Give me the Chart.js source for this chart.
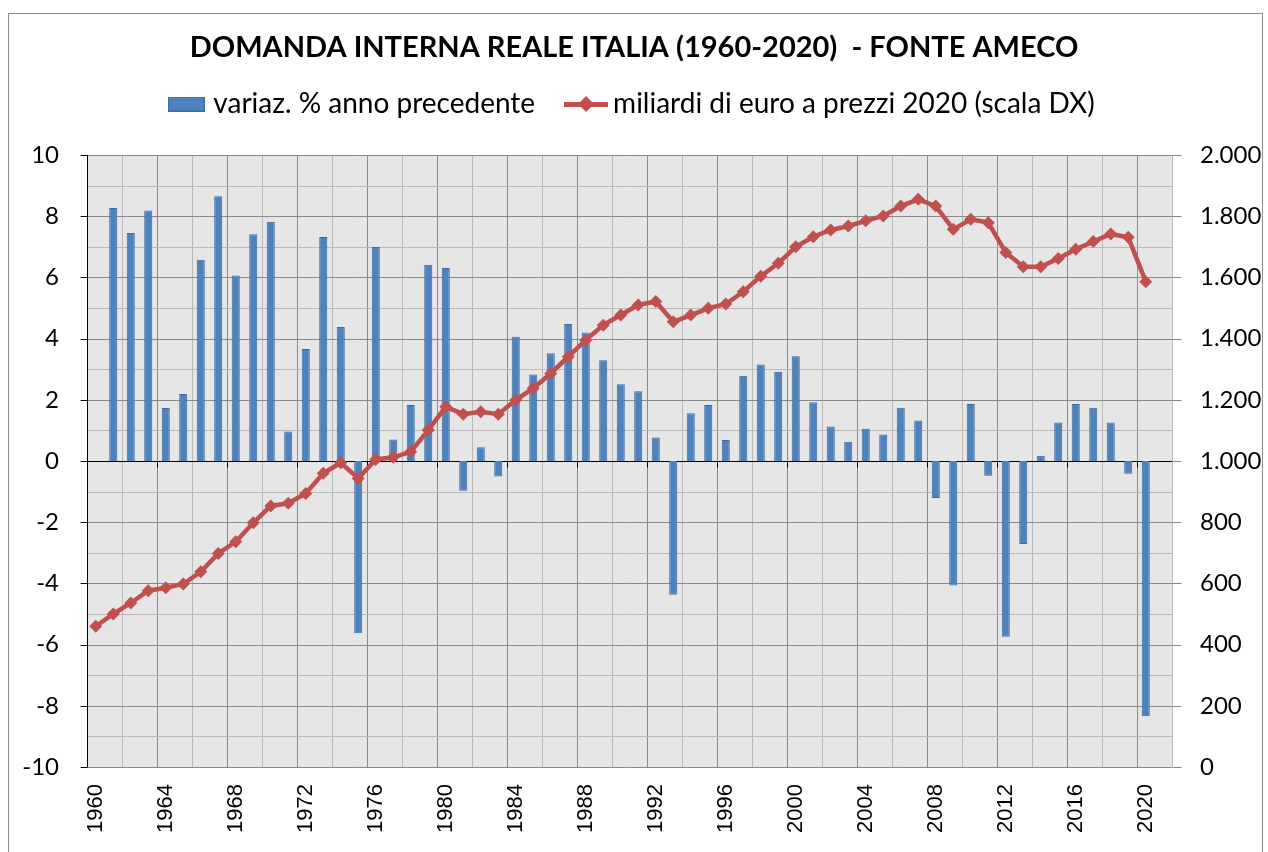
<!DOCTYPE html>
<html>
<head>
<meta charset="utf-8">
<script src="https://cdn.jsdelivr.net/npm/chart.js@4.4.1/dist/chart.umd.min.js"></script>
<style>
    body {
        margin: 0;
        background: #ffffff;
    }
    canvas {
        position: absolute;
        left: 0;
        top: 0;
    }
</style>
</head>
<body>
<canvas id="plot" width="1268" height="852"></canvas>
<script>
// years on the category axis (2021 is an empty slot, as in the original sheet)
const years = [];
for (let y = 1960; y <= 2021; y++) years.push(String(y));

// variaz. % anno precedente
const pctChange = [
    null, 8.27, 7.45, 8.19, 1.73, 2.19, 6.58, 8.65, 6.06, 7.41,
    7.82, 0.96, 3.66, 7.32, 4.38, -5.63, 6.99, 0.70, 1.83, 6.41,
    6.31, -0.97, 0.45, -0.51, 4.06, 2.83, 3.52, 4.48, 4.20, 3.29,
    2.51, 2.28, 0.77, -4.37, 1.56, 1.83, 0.69, 2.79, 3.15, 2.92,
    3.42, 1.92, 1.13, 0.63, 1.05, 0.87, 1.74, 1.32, -1.21, -4.07,
    1.86, -0.48, -5.74, -2.71, 0.17, 1.26, 1.86, 1.74, 1.26, -0.42,
    -8.34, null
];

// miliardi di euro a prezzi 2020
const billionsEur = [
    460, 500, 536, 576, 586, 598, 638, 698, 736, 798,
    853, 862, 894, 960, 994, 943, 1005, 1012, 1030, 1101,
    1177, 1153, 1161, 1153, 1199, 1238, 1286, 1341, 1395, 1444,
    1477, 1510, 1521, 1455, 1477, 1499, 1513, 1553, 1604, 1646,
    1700, 1733, 1755, 1768, 1785, 1801, 1833, 1855, 1833, 1757,
    1790, 1779, 1681, 1635, 1635, 1662, 1692, 1717, 1742, 1731,
    1586, null
];

const titleText = "DOMANDA INTERNA REALE ITALIA (1960-2020)  - FONTE AMECO";
const barLabel = "variaz. % anno precedente";
const lineLabel = "miliardi di euro a prezzi 2020 (scala DX)";

const BLUE = "#4F81BD";
const BLUE_EDGE = "#3B6A9F";
const RED = "#C0504D";
const MAJOR_GRID = "#8a8a8a";
const MINOR_GRID = "#b9b9b9";

// legend glyphs drawn into small canvases
function makeBoxGlyph() {
    const c = document.createElement("canvas");
    c.width = 37; c.height = 15;
    const g = c.getContext("2d");
    g.fillStyle = BLUE;
    g.fillRect(0, 0, 37, 15);
    g.strokeStyle = BLUE_EDGE;
    g.lineWidth = 1;
    g.strokeRect(0.5, 0.5, 36, 14);
    return c;
}
function makeLineGlyph() {
    const c = document.createElement("canvas");
    c.width = 44; c.height = 16;
    const g = c.getContext("2d");
    g.fillStyle = RED;
    g.fillRect(0, 6, 44, 5);
    g.beginPath();
    g.moveTo(22, 0); g.lineTo(30, 8); g.lineTo(22, 16); g.lineTo(14, 8);
    g.closePath();
    g.fill();
    return c;
}

// Italian thousands separator: 2000 -> "2.000"
function fmtThousands(v) {
    if (v >= 1000) {
        const rest = String(v % 1000).padStart(3, "0");
        return Math.floor(v / 1000) + "." + rest;
    }
    return String(v);
}

function strokeLine(ctx, x1, y1, x2, y2, color) {
    ctx.strokeStyle = color;
    ctx.beginPath();
    ctx.moveTo(x1, y1);
    ctx.lineTo(x2, y2);
    ctx.stroke();
}

// plot background, frame and the Excel-like grid, all placed from the scales
const plotGrid = {
    id: "plotGrid",
    beforeDraw: (chart) => {
        const {ctx, chartArea: a, scales} = chart;
        const x = scales.x, y = scales.y, y1 = scales.y1;
        ctx.save();
        ctx.lineWidth = 1;
        // outer frame of the picture
        ctx.strokeStyle = "#8c8c8c";
        ctx.strokeRect(8.5, 13.5, 1254, 900);

        ctx.fillStyle = "#e6e6e6";
        ctx.fillRect(a.left, a.top, a.right - a.left, a.bottom - a.top);

        // vertical lines on category boundaries, every 2 years (darker every 4)
        const step = x.getPixelForValue(1) - x.getPixelForValue(0);
        const first = x.getPixelForValue(0) - step / 2;
        for (let i = 2; i <= years.length; i += 2) {
            const px = Math.round(first + i * step) + 0.5;
            strokeLine(ctx, px, a.top, px, a.bottom, i % 4 === 0 ? MAJOR_GRID : MINOR_GRID);
        }
        // horizontal lines, minor first then major
        for (let v = -9; v <= 9; v += 2) {
            const py = Math.round(y.getPixelForValue(v)) + 0.5;
            strokeLine(ctx, a.left, py, a.right, py, MINOR_GRID);
        }
        for (let v = -10; v <= 10; v += 2) {
            if (v === 0) continue;
            const py = Math.round(y.getPixelForValue(v)) + 0.5;
            strokeLine(ctx, a.left, py, a.right, py, MAJOR_GRID);
        }
        // left axis with outward tick marks
        const lx = Math.round(a.left) + 0.5;
        strokeLine(ctx, lx, a.top, lx, a.bottom, "#000");
        for (let v = -10; v <= 10; v += 2) {
            const py = Math.round(y.getPixelForValue(v)) + 0.5;
            strokeLine(ctx, lx - 7, py, lx, py, "#000");
        }
        // right axis tick marks
        const rx = Math.round(a.right) + 0.5;
        for (let v = 0; v <= 2000; v += 200) {
            const py = Math.round(y1.getPixelForValue(v)) + 0.5;
            strokeLine(ctx, rx, py, rx + 9, py, MAJOR_GRID);
        }
        // zero line with small ticks every 4 years
        const y0 = Math.round(y.getPixelForValue(0)) + 0.5;
        strokeLine(ctx, a.left, y0, a.right, y0, "#000");
        for (let i = 4; i < years.length; i += 4) {
            const px = Math.round(first + i * step) + 0.5;
            strokeLine(ctx, px, y0, px, y0 + 6, "#000");
        }
        ctx.restore();
    }
};

// extra room between legend and plot area
const legendGap = {
    id: "legendGap",
    beforeInit: (chart) => {
        const fit = chart.legend.fit;
        chart.legend.fit = function () {
            fit.bind(chart.legend)();
            this.height += 27;
        };
    }
};

const boxGlyph = makeBoxGlyph();
const lineGlyph = makeLineGlyph();

const config = {
    type: "bar",
    data: {
        labels: years,
        datasets: [
            {
                type: "bar",
                label: barLabel,
                data: pctChange,
                yAxisID: "y",
                backgroundColor: BLUE,
                borderColor: BLUE_EDGE,
                borderWidth: 1,
                barPercentage: 0.46,
                categoryPercentage: 1.0,
                order: 2,
            },
            {
                type: "line",
                label: lineLabel,
                data: billionsEur,
                yAxisID: "y1",
                borderColor: RED,
                backgroundColor: RED,
                borderWidth: 4.5,
                tension: 0,
                pointStyle: "rectRot",
                pointRadius: 6.5,
                pointBorderWidth: 0,
                pointBackgroundColor: RED,
                order: 1,
            },
        ],
    },
    options: {
        responsive: false,
        animation: false,
        devicePixelRatio: 1,
        plugins: {
            tooltip: {enabled: false},
            title: {
                display: true,
                text: titleText,
                color: "#000",
                font: {family: "Lato", size: 29, weight: "bold"},
                padding: {top: 30.6, bottom: -13.4},
            },
            legend: {
                display: true,
                position: "top",
                labels: {
                    color: "#000",
                    font: {family: "Lato", size: 28},
                    usePointStyle: true,
                    pointStyleWidth: 26,
                    padding: 38,
                    generateLabels: () => [
                        {text: barLabel, pointStyle: boxGlyph, fillStyle: BLUE,
                         strokeStyle: BLUE_EDGE, lineWidth: 0, hidden: false, datasetIndex: 0},
                        {text: lineLabel, pointStyle: lineGlyph, fillStyle: RED,
                         strokeStyle: RED, lineWidth: 0, hidden: false, datasetIndex: 1},
                    ],
                },
            },
        },
        scales: {
            x: {
                type: "category",
                offset: true,
                afterFit: (scale) => { scale.height = 85; },
                grid: {display: false, offset: true, drawTicks: false},
                border: {display: false},
                ticks: {
                    autoSkip: false,
                    maxRotation: 90,
                    minRotation: 90,
                    padding: 17,
                    color: "#000",
                    font: {family: "Liberation Sans", size: 22},
                    callback: function (val, idx) {
                        return idx % 4 === 0 && idx < 61 ? years[idx] : "";
                    },
                },
            },
            y: {
                position: "left",
                min: -10,
                max: 10,
                afterFit: (scale) => { scale.width = 87; },
                border: {display: false},
                grid: {display: false, drawTicks: true, tickLength: 7},
                ticks: {
                    stepSize: 1,
                    padding: 21,
                    color: "#000",
                    font: {family: "Lato", size: 24},
                    callback: (v) => (v % 2 === 0 ? String(v) : ""),
                },
            },
            y1: {
                position: "right",
                min: 0,
                max: 2000,
                afterFit: (scale) => { scale.width = 96; },
                border: {display: false},
                grid: {display: false, drawOnChartArea: false, drawTicks: true, tickLength: 9},
                ticks: {
                    stepSize: 200,
                    padding: 19,
                    color: "#000",
                    font: {family: "Lato", size: 24},
                    callback: (v) => fmtThousands(v),
                },
            },
        },
    },
    plugins: [plotGrid, legendGap],
};

const chart = new Chart(document.getElementById("plot"), config);
</script>
</body>
</html>
